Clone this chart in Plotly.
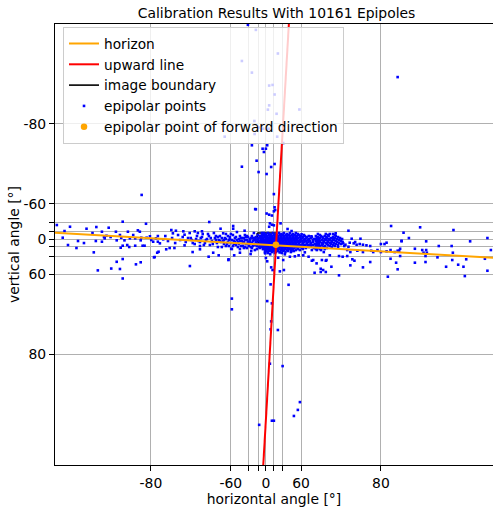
import numpy as np
import plotly.graph_objects as go

# ---------------- data (angles in degrees) ----------------
tick_angles = [-80, -60, -40, -20, 0, 20, 40, 60, 80]
tick_labels = ["-80", "-60", "", "", "0", "", "", "60", "80"]

horizon_h = [-84.61, 84.94]
horizon_v = [-17.5, 42.8]

upward_h = [-7.9, 48.7]
upward_v = [84.94, -84.66]

boundary_h = [-23.2, 26.3, 26.3, -23.2, -23.2]
boundary_v = [-16.5, -16.5, 10.3, 10.3, -16.5]

forward_h = [26.3]
forward_v = [15.7]

# epipolar points, read cluster by cluster
upper_h = [-41.6, -26.3, -49.8, -34.6, 30.6, 9.2, 18.3, 23.2, 9.2, 5.6, 27.8, 58.8, -29.6, -19.8,
           -7.6, 7.6, -29.1, 29.1, -63.8, 40.5, -34.6, -9.2, 0.0, 3.7, -5.6, -24.6, -49.8, 14.6,
           23.2, -19.8, 2.0, 21.5, -26.3, 23.2, 24.6, 21.5, 2.0, 9.2, 16.5, 11.2, 16.5, 21.5, 35.9,
           9.2, 81.25, -80.73, -27.8]
upper_v = [-84.59, -84.46, -83.50, -83.05, -83.76, -82.47, -82.50, -82.01, -81.37, -81.09, -80.80,
           -81.10, -80.25, -79.69, -79.58, -79.58, -79.07, -78.79, -78.79, -78.07, -77.79, -77.34,
           -77.34, -77.79, -76.88, -75.48, -74.33, -74.27, -74.87, -73.15, -72.67, -65.7, -55.7,
           -57.4, -55.0, -53.8, -51.5, -50.2, -49.2, -37.7, -35.2, -34.0, -37.7, -31.2, -82.86,
           -65.3, -55.9]

lower_h = [13.1, 48.2, -59.2, -59.2, 3.7, 16.5, 14.6, 13.1, 30.6, 11.2, 39.5, 59.2, 57.6, 54.1,
           -18.3, 16.5, 21.5, 14.6, 18.3, 34.6, 41.6, 0.0, 3.7, -2.0]
lower_v = [65.9, 66.1, 71.2, 73.9, 71.9, 72.5, 76.16, 77.34, 77.43, 80.76, 80.93, 82.91, 83.23,
           83.46, 83.77, 83.63, 83.63, 54.4, 56.8, 57.9, 56.8, 43.1, 47.7, 35.2]

left_h = [-70.3, -81.94, -80.4, -84.46,
          -83.12, -82.53, -82.26, -81.94, -82.09, -81.94, -81.13, -80.80, -79.67, -75.06, -61.6,
          -57.4, -35.9, -37.0, -70.5, -68.95, -66.76, -61.5, -52.0, -59.7, -74.53, -78.5, -79.43,
          -79.73, -83.28, -84.15, -83.89,
          -84.09, -84.25, -84.30, -83.84, -83.64, -83.55, -83.33, -83.2, -83.18, -82.95, -82.95,
          -82.86, -82.83, -82.65, -82.75, -82.56, -82.3, -82.26, -82.09, -82.02, -81.84, -82.05,
          -81.94, -81.68, -81.56, -81.64, -81.52, -81.31, -81.18, -81.18, -81.0, -80.86, -80.76,
          -80.80, -80.66, -80.51, -80.35, -80.08, -79.55, -79.37, -79.8, -79.3, -79.97, -79.17,
          -78.83, -79.37]
left_v = [-40.0, -40.5, -37.0, -34.6,
          57.1, 55.5, 48.3, 44.6, 55.9, 62.8, 51.3, 48.9, 41.6, 53.1, 46.0, 38.8, 30.6, 36.5,
          41.1, 34.0, 38.8, 45.0, 34.0, 25.6, 32.7, 26.9, 34.0, 42.1, 33.3, 16.5, 23.9,
          -31.2, -21.5, -3.7, 5.6, 11.2, -26.9, -16.5, 5.6, -30.6, -19.8, 7.6, -5.6, -2.0, -29.1,
          -9.2, -5.6, -19.8, 3.7, -11.2, -3.7, 3.7, 23.2, 18.3, 16.5, 21.5, -19.8, -2.0, -11.2,
          -2.0, 18.3, -23.2, -19.8, -3.7, 3.7, 18.3, 18.3, -3.7, -7.6, -2.0, 7.6, 7.6, 32.1, 2.8,
          12.0, 0.8, -8.4]

band_h = [-78.6, -78.3, -77.8, -77.4, -77.0, -76.7, -76.3, -75.8, -75.4, -75.1,
          -74.7, -74.1, -73.6, -73.2, -72.7, -72.2, -71.6, -71.0, -70.4, -70.1,
          -69.4, -68.7, -68.3, -67.5, -66.7, -66.2, -65.3, -64.7, -63.7, -63.1,
          -62.5, -61.3, -60.6, -59.9, -59.2, -58.4, -57.6, -56.8, -55.9, -55.0,
          -54.1, -53.1, -52.0, -50.9, -49.8, -48.6, -47.3, -47.3, -46.0, -44.6,
          -43.1, -41.6, -41.6, -40.0, -38.3, -36.5, -34.6, -34.6, -32.7, -30.6,
          -28.5, -28.5, -26.3, -23.9, -21.5, -21.5, -19.0, -16.5, -13.9, -13.9,
          -77.9, -77.7, -77.3, -76.2, -76.0, -74.1, -72.4, -65.9, -58.2, -58.2, -64.6, -46.4,
          -78.1, -77.5, -76.0, -72.9, -72.9,
          -67.9, -67.1, -65.7, -64.2, -63.1, -61.9, -61.3, -59.2, -57.6, -55.9, -54.1, -52.0,
          -50.9, -48.6, -46.0, -44.6, -43.1, -40.0, -38.3, -36.5, -32.7, -30.6, -26.3, -23.9,
          -19.0, -16.5, -16.5, -11.2, -11.2, -30.6,
          -74.9, -74.5, -73.8, -73.4, -72.9, -72.4, -71.9, -71.3, -70.7, -69.8, -69.1, -67.9,
          -67.1, -66.2, -65.3, -64.2, -63.1, -61.9, -60.6, -59.9, -58.4, -56.8, -55.0, -53.1,
          -52.0, -49.8, -47.3, -46.0, -43.1, -41.6, -38.3, -36.5, -34.6, -32.7, -28.5, -26.3,
          -23.9, -21.5, -19.0, -13.9, -11.2, -11.2, -8.4, -5.6]
band_v = [-8.4, 5.6, -2.8, 11.2, -11.2, 2.8, -5.6, 8.4, -2.8, -16.5,
          2.8, 13.9, -8.4, 5.6, -2.8, -13.9, 11.2, 0.0, -8.4, 16.5,
          5.6, -16.5, -2.8, 11.2, 2.8, -8.4, 21.5, 5.6, -2.8, -13.9,
          13.9, 2.8, -5.6, 11.2, 26.3, -11.2, 5.6, -2.8, 16.5, -19.0,
          8.4, 0.0, -8.4, 19.0, 5.6, 11.2, -2.8, 23.9, -11.2, 13.9,
          2.8, 8.4, -5.6, 19.0, 0.0, 11.2, -8.4, 23.9, 5.6, 13.9,
          -2.8, 28.5, 8.4, 19.0, 2.8, -11.2, 13.9, 23.9, -2.8, 8.4,
          -23.9, -15.7, -22.2, -20.8, -12.0, -20.8, -20.8, -26.9, -32.7, -26.9, -15.7, -22.2,
          23.9, 23.9, 17.3, 19.0, 26.9,
          2.8, -5.6, 8.4, 13.9, 0.0, -8.4, 19.0, 2.8, 13.9, -5.6, 21.5, 5.6,
          -2.8, 19.0, 2.8, -5.6, 23.9, 8.4, 13.9, -2.8, 19.0, 2.8, -5.6, 26.3,
          5.6, -8.4, 16.5, 21.5, -16.5, -16.5,
          -2.8, 11.2, 0.0, -16.5, 8.4, -5.6, 16.5, 2.8, -13.9, -2.8, 13.9, -8.4,
          21.5, 5.6, -2.8, 2.8, 19.0, 8.4, 0.0, -13.9, 19.0, 8.4, 2.8, 13.9,
          26.3, -2.8, 8.4, 21.5, -8.4, 13.9, 5.6, 21.5, 11.2, -2.8, 16.5, 2.8,
          11.2, -2.8, 21.5, 13.9, 2.8, -8.4, 26.3, -13.9]

blob_row_v = [-16.5, -11.2, -5.6, 0.0, 5.6, 11.2, 16.5, 21.5, 26.3, 30.6, 34.6,
              -13.9, -8.4, -2.8, 2.8, 8.4, 13.9, 19.0, 23.9, 28.5, 32.7]
blob_row_h = [
    [-5.6, 5.6, 19.0, 32.7, 41.6, 49.8, 55.9],
    [-8.4, 0.0, 8.4, 13.9, 21.5, 28.5, 34.6, 40.0, 44.6, 48.6, 52.0, 55.0, 58.4, 61.9],
    [-11.2, -2.8, 2.8, 11.2, 16.5, 23.9, 30.6, 36.5, 41.6, 46.0, 49.8, 53.1, 55.9, 59.2, 61.3, 63.7, 66.2],
    [-8.4, 0.0, 5.6, 13.9, 19.0, 26.3, 32.7, 38.3, 43.1, 47.3, 50.9, 54.1, 56.8, 59.9, 62.5, 64.7, 67.1],
    [-11.2, -5.6, 2.8, 8.4, 16.5, 21.5, 28.5, 34.6, 40.0, 44.6, 48.6, 52.0, 55.0, 57.6, 60.6, 63.1, 65.3, 67.9],
    [-8.4, -2.8, 5.6, 11.2, 19.0, 26.3, 30.6, 36.5, 41.6, 46.0, 49.8, 53.1, 55.9, 58.4, 61.3, 63.7, 65.7, 68.7],
    [-11.2, -5.6, 2.8, 11.2, 16.5, 23.9, 32.7, 38.3, 43.1, 47.3, 50.9, 54.1, 56.8, 59.9, 62.5, 64.7, 66.7],
    [-8.4, 0.0, 5.6, 13.9, 21.5, 28.5, 34.6, 40.0, 44.6, 48.6, 52.0, 55.9, 59.2, 61.9, 64.7],
    [-5.6, 2.8, 11.2, 19.0, 26.3, 32.7, 38.3, 43.1, 48.6, 53.1, 57.6, 61.3],
    [0.0, 11.2, 21.5, 30.6, 40.0, 47.3, 54.1],
    [5.6, 23.9, 38.3],
    [-9.8, -1.4, 11.2, 26.3, 37.4, 46.0, 53.1, 57.6],
    [-13.9, -4.2, 4.2, 11.2, 17.8, 25.1, 31.6, 37.4, 42.4, 46.7, 50.4, 53.6, 56.8, 59.9, 62.5, 64.7],
    [-15.2, -7.0, 1.4, 8.4, 15.2, 22.7, 29.6, 35.6, 40.8, 45.3, 49.2, 52.6, 55.5, 58.0, 61.0, 63.4, 65.7],
    [-13.9, -7.0, -1.4, 5.6, 12.5, 19.0, 25.1, 31.6, 37.4, 42.4, 46.7, 50.4, 53.6, 56.4, 59.2, 61.9, 64.2, 66.7],
    [-15.2, -7.0, 0.0, 7.0, 13.9, 20.3, 25.1, 33.6, 39.1, 43.9, 48.0, 51.5, 54.6, 57.2, 59.5, 62.2, 64.5, 66.7, 68.7],
    [-13.9, -7.0, 0.0, 7.0, 13.9, 21.5, 28.5, 35.6, 40.8, 45.3, 49.2, 52.6, 55.5, 58.4, 61.3, 63.7, 65.7, 67.9],
    [-12.5, -2.8, 7.0, 15.2, 20.3, 26.3, 35.6, 40.8, 46.0, 49.8, 53.1, 55.9, 58.8, 61.6, 64.0, 65.7],
    [-7.0, -1.4, 8.4, 17.8, 25.1, 31.6, 37.4, 42.4, 46.7, 50.9, 54.6, 57.6, 60.6, 63.1],
    [-1.4, 7.0, 16.5, 23.9, 30.6, 36.5, 41.6, 46.0, 50.9, 55.9, 59.2],
    [5.6, 16.5, 26.3, 35.6, 43.9, 50.9],
]

tail_row_v = [-13.9, -8.4, -2.8, 2.8, 8.4, 13.9, 19.0, 23.9, 28.5,
              -11.2, -5.6, 0.0, 5.6, 11.2, 16.5, 21.5, 26.3]
tail_row_h = [
    [68.7, 71.3, 72.4, 73.2],
    [67.9, 69.8, 71.0, 72.1, 73.8],
    [68.3, 69.4, 70.4, 71.6, 72.7, 73.6, 74.7],
    [68.7, 70.1, 71.3, 72.4, 73.4, 74.5],
    [69.4, 70.7, 71.9, 72.9, 74.1, 75.2],
    [67.5, 69.1, 70.4, 71.6, 72.7, 73.8, 74.9],
    [67.9, 69.4, 71.0, 72.4, 73.6],
    [67.1, 68.7, 70.1, 71.6],
    [66.2, 68.3, 69.8],
    [69.4, 71.9, 73.6],
    [68.7, 70.3, 71.5, 73.2, 74.3],
    [67.9, 69.1, 71.0, 72.1, 73.2, 74.1, 75.1],
    [69.4, 70.7, 71.9, 72.9, 73.8, 74.9],
    [68.3, 70.1, 71.3, 72.4, 73.4, 74.5],
    [68.7, 70.1, 71.9, 73.2, 74.3],
    [68.7, 70.7, 72.9],
    [67.9, 69.4, 71.0],
]

right_h = [80.80, 76.2, 76.7, 77.9, 75.3, 75.7, 76.4, 77.0, 77.4, 77.8, 78.2, 78.6, 79.0, 80.0,
           80.46, 79.1, 79.3, 79.7, 80.0, 80.46, 80.76, 81.05, 81.35, 76.0, 76.5, 77.5, 78.2,
           74.5, 75.2, 76.0, 76.8, 77.1, 78.2, 79.0, 80.76, 66.2, 68.2, 70.1, 71.3, 70.5, 71.3,
           69.7, 72.8, 74.5, 76.5, 80.56, 67.4, 82.51, 83.83, 81.62, 81.93, 81.5, 82.79, 84.33,
           84.77, 83.31, 83.77, 81.41, 82.25, 82.61, 82.79, 82.67, 82.82, 81.25, 83.81, 84.85,
           81.41, 82.76, 83.26, 83.79, 84.22, 84.71, 81.15, 82.25, 82.76, 83.98, 84.14, 83.58,
           81.25, 84.77, 84.18, 81.5, 80.30, 74.3, 75.5, 74.5, 76.2, 77.2, 64.6, 66.8, 61.5,
           58.2, 49.8, 40.5, 69.7, 71.5, 72.4, 70.7, 73.8,
           46.9, 51.7, 60.4, 66.0, -2.8, 12.0, 34.0, 43.1, 51.7, 62.5, 55.0, 31.2]
right_v = [-32.7, -22.2, -0.8, -0.8, 12.0, 15.7, 10.3, 12.0, 15.7, 13.9, 15.7, 17.3, 19.0, 13.9,
           10.3, 30.0, 32.7, 28.5, 32.7, 31.2, 28.5, 32.7, 30.0, 28.5, 32.7, 30.0, 32.7,
           40.0, 41.1, 40.0, 45.0, 46.9, 54.4, 48.6, 44.2, 46.9, 50.2, 46.0, 46.9, 56.8, 58.4,
           58.4, 53.8, 60.8, 52.4, 61.7, 59.0, -30.0, -23.9, -17.3, -2.8, 6.5, 6.5, 6.5,
           -2.8, 19.0, 19.0, 25.6, 25.6, 28.5, 28.5, 34.0, 34.0, 30.0, 34.0, 28.5,
           40.0, 40.0, 42.1, 46.0, 45.0, 44.2, 49.4, 49.4, 48.6, 51.7, 53.8, 53.8,
           56.2, 57.4, 61.3, 4.8, 13.9, 22.2, 19.0, 2.8, 20.8, 8.4, 41.1, 46.0, 38.8,
           38.8, 41.1, 46.0, 55.7, 46.0, 38.8, 32.7, -15.7,
           -26.3, -21.5, -13.1, -7.6, 33.3, 37.0, 33.3, 37.0, 30.6, 33.3, 40.5, 42.7]

# ---------------- build ----------------
def proj(a):
    """gnomonic (tangent) projection of an angle in degrees"""
    return np.tan(np.radians(np.asarray(a, dtype=float)))

pts_h = (upper_h + lower_h + left_h + band_h
         + [h for row in blob_row_h for h in row]
         + [h for row in tail_row_h for h in row] + right_h)
pts_v = (upper_v + lower_v + left_v + band_v
         + [v for v, row in zip(blob_row_v, blob_row_h) for _ in row]
         + [v for v, row in zip(tail_row_v, tail_row_h) for _ in row] + right_v)

FONT = "DejaVu Sans"
FS = 13.9

fig = go.Figure()
fig.add_trace(go.Scatter(x=proj(boundary_h), y=proj(boundary_v), mode="lines",
                         line=dict(color="black", width=1.6), name="image boundary",
                         legendrank=3))
fig.add_trace(go.Scatter(x=proj(pts_h), y=proj(pts_v), mode="markers",
                         marker=dict(symbol="square", size=2.6, color="#0000ff", line_width=0),
                         name="epipolar points", legendrank=4))
fig.add_trace(go.Scatter(x=proj(horizon_h), y=proj(horizon_v), mode="lines",
                         line=dict(color="#ffa500", width=2), name="horizon", legendrank=1))
fig.add_trace(go.Scatter(x=proj(upward_h), y=proj(upward_v), mode="lines",
                         line=dict(color="#ff0000", width=2), name="upward line", legendrank=2))
fig.add_trace(go.Scatter(x=proj(forward_h), y=proj(forward_v), mode="markers",
                         marker=dict(symbol="circle", size=6.5, color="#ffa500", line_width=0),
                         name="epipolar point of forward direction", legendrank=5))

axis_common = dict(
    tickvals=proj(tick_angles), ticktext=tick_labels,
    showgrid=True, gridcolor="#b0b0b0", gridwidth=1, zeroline=False,
    showline=True, linecolor="black", linewidth=1,
    ticks="outside", ticklen=5, tickwidth=1, tickcolor="black",
    tickfont=dict(family=FONT, size=FS, color="black"),
)

fig.update_layout(
    width=493, height=509, autosize=False,
    margin=dict(l=55, r=0, t=24, b=44, pad=0),
    paper_bgcolor="white", plot_bgcolor="white",
    font=dict(family=FONT, size=FS, color="black"),
    title=dict(text="Calibration Results With 10161 Epipoles", x=0.561, xref="container",
               xanchor="center", y=1 - 13 / 509, yref="container", yanchor="middle",
               font=dict(family=FONT, size=FS, color="black")),
    xaxis=dict(range=[-10.40, 11.20], mirror=True,
               title=dict(text="horizontal angle [°]", standoff=4,
                          font=dict(family=FONT, size=FS, color="black")),
               **axis_common),
    yaxis=dict(range=[11.14, -10.60], mirror=False,
               title=dict(text="vertical angle [°]", standoff=0,
                          font=dict(family=FONT, size=FS, color="black")),
               **axis_common),
    showlegend=True,
    legend=dict(x=0.0183, y=0.993, xanchor="left", yanchor="top",
                bgcolor="rgba(255,255,255,0.8)", bordercolor="#cccccc", borderwidth=1,
                font=dict(family=FONT, size=13.7, color="black"), traceorder="normal"),
)

fig.write_html("out.html")
